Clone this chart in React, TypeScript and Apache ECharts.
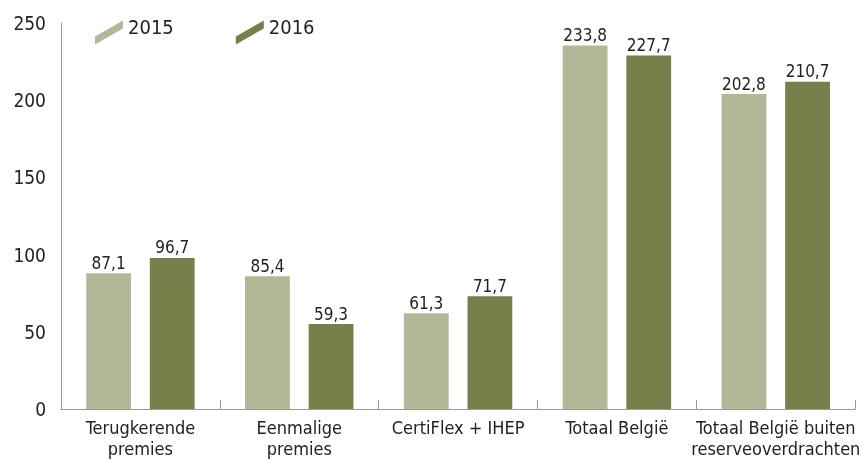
import React, { useEffect, useRef } from "react";
import * as echarts from "echarts";

const categories = [
  "Terugkerende\npremies",
  "Eenmalige\npremies",
  "CertiFlex + IHEP",
  "Totaal België",
  "Totaal België buiten\nreserveoverdrachten",
];
const seriesNames = ["2015", "2016"];
// bar heights as drawn in the picture
const heights2015 = [88, 86, 62, 235.5, 204];
const heights2016 = [97.8, 55, 73, 229, 212];
// printed value labels
const labels2015 = ["87,1", "85,4", "61,3", "233,8", "202,8"];
const labels2016 = ["96,7", "59,3", "71,7", "227,7", "210,7"];
const yTicks = [0, 50, 100, 150, 200, 250];

const colors = ["#b4b797", "#77804a"];
const FONT = "'DejaVu Sans Condensed', 'Liberation Sans Narrow', sans-serif";
const icon = "path://M0,24 L0,16 L28,0 L28,8 Z";

export default function App() {
  const ref = useRef<HTMLDivElement>(null);
  useEffect(() => {
    const chart = echarts.init(ref.current!, null, { renderer: "svg" });
    const mk = (i: number, heights: number[], labels: string[]) => ({
      name: seriesNames[i],
      type: "bar",
      data: heights,
      barWidth: "28.2%",
      barGap: "42%",
      itemStyle: { color: colors[i] },
      label: {
        show: true,
        position: "top",
        distance: 2,
        color: "#222",
        fontSize: 17,
        fontFamily: FONT,
        formatter: (p: any) => labels[p.dataIndex],
      },
    });
    chart.setOption({
      animation: false,
      textStyle: { fontFamily: FONT },
      legend: {
        left: 90,
        top: 12,
        itemWidth: 28,
        itemHeight: 24,
        itemGap: 62,
        icon,
        formatter: "{t|{name}}",
        textStyle: {
          fontSize: 20,
          color: "#222",
          fontFamily: FONT,
          rich: { t: { fontSize: 20, color: "#222", fontFamily: FONT, padding: [0, 0, 11, 0] } },
        },
        data: seriesNames,
      },
      grid: { left: 61, right: 4, top: 23, bottom: 52, containLabel: false },
      xAxis: {
        type: "category",
        data: categories,
        axisLine: { lineStyle: { color: "#999" } },
        axisTick: { show: true, inside: true, length: 9, lineStyle: { color: "#999" } },
        axisLabel: {
          interval: 0,
          color: "#222",
          fontSize: 18,
          lineHeight: 21,
          margin: 8,
          fontFamily: FONT,
        },
      },
      yAxis: {
        type: "value",
        min: 0,
        max: 250,
        interval: 50,
        splitLine: { show: false },
        axisLine: { show: true, lineStyle: { color: "#999" } },
        axisTick: { show: false },
        axisLabel: {
          color: "#222",
          fontSize: 19,
          margin: 15,
          fontFamily: FONT,
          formatter: (v: number) => (yTicks.includes(v) ? String(v) : ""),
        },
      },
      series: [mk(0, heights2015, labels2015), mk(1, heights2016, labels2016)],
    });
    return () => chart.dispose();
  }, []);
  return <div ref={ref} style={{ width: 863, height: 461, position: "fixed", left: 0, top: 0 }} />;
}
